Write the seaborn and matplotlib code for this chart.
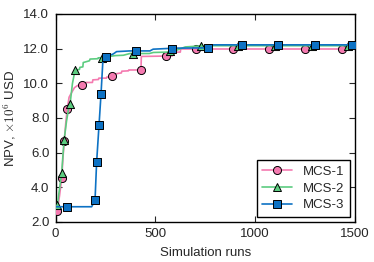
import matplotlib
matplotlib.use("Agg")
import matplotlib.pyplot as plt
from matplotlib.lines import Line2D
from matplotlib.ticker import FormatStrFormatter
import seaborn as sns

# best-so-far NPV curves (x = simulation run, y = NPV x1e6 USD)
mcs1_x = [0, 9, 20, 31, 38, 44, 52, 59, 68, 80, 95, 110, 150, 152, 185, 187, 215, 217, 255, 257,
          300, 302, 330, 332, 365, 367, 428, 430, 585, 587, 625, 627, 1500]
mcs1_y = [2.6, 2.65, 3.5, 4.51, 5.8, 6.67, 7.8, 8.53, 9.2, 9.45, 9.75, 9.87, 9.92, 10.05, 10.05, 10.2,
          10.22, 10.3, 10.3, 10.36, 10.4, 10.55, 10.6, 10.7, 10.72, 10.77, 10.77, 11.55, 11.58, 11.8,
          11.8, 11.98, 11.98]
mcs2_x = [0, 9, 20, 31, 37, 43, 55, 65, 73, 85, 98, 120, 122, 137, 139, 170, 173, 212, 214, 250, 256,
          300, 340, 373, 470, 490, 560, 600, 650, 720, 730, 1500]
mcs2_y = [2.85, 2.98, 3.9, 4.83, 5.8, 6.71, 7.8, 8.5, 8.81, 10.0, 10.77, 10.8, 10.92, 10.95, 11.2, 11.3,
          11.4, 11.42, 11.47, 11.49, 11.53, 11.6, 11.62, 11.72, 11.72, 11.78, 11.8, 11.88, 12.1, 12.15,
          12.17, 12.17]
mcs3_x = [0, 181, 198, 206, 218, 228, 238, 253, 262, 265, 290, 306, 373, 473, 489, 600, 780, 785, 1500]
mcs3_y = [2.88, 2.88, 3.26, 5.46, 7.59, 9.39, 11.45, 11.49, 11.5, 11.58, 11.7, 11.83, 11.87, 11.87,
          11.97, 12.03, 12.05, 12.22, 12.22]

# marker positions along each curve
mcs1_mx = [9, 31, 44, 59, 134, 284, 426, 552, 703, 887, 1068, 1252, 1436]
mcs1_my = [2.65, 4.51, 6.67, 8.53, 9.92, 10.4, 10.77, 11.58, 11.98, 11.98, 11.98, 11.98, 11.98]
mcs2_mx = [9, 31, 43, 73, 98, 231, 390, 573, 728, 915, 1099, 1283, 1466]
mcs2_my = [2.98, 4.83, 6.71, 8.81, 10.77, 11.48, 11.72, 11.84, 12.17, 12.17, 12.17, 12.17, 12.17]
mcs3_mx = [56, 198, 206, 218, 228, 253, 402, 582, 765, 932, 1115, 1299, 1483]
mcs3_my = [2.88, 3.26, 5.46, 7.59, 9.39, 11.49, 11.87, 12.0, 12.04, 12.22, 12.22, 12.22, 12.22]

labels = ["MCS-1", "MCS-2", "MCS-3"]
colors = ["#f47ab0", "#5ccc80", "#0d72c4"]
markers = ["o", "^", "s"]

sns.set_style("ticks")
plt.rcParams["font.family"] = ["Liberation Sans", "DejaVu Sans"]
plt.rcParams["mathtext.fontset"] = "cm"
plt.rcParams["font.size"] = 9.5

fig = plt.figure(figsize=(3.74, 2.62), dpi=100)
ax = fig.add_axes([0.1484, 0.1527, 0.8008, 0.7939])

curves = [(mcs1_x, mcs1_y, mcs1_mx, mcs1_my),
          (mcs2_x, mcs2_y, mcs2_mx, mcs2_my),
          (mcs3_x, mcs3_y, mcs3_mx, mcs3_my)]

for i, (cx, cy, mx, my) in enumerate(curves):
    sns.lineplot(x=cx, y=cy, ax=ax, color=colors[i], lw=1.2, estimator=None, sort=False,
                 zorder=2 + 2 * i)
    sns.scatterplot(x=mx, y=my, ax=ax, marker=markers[i], s=34, color=colors[i],
                    edgecolor="black", linewidth=0.7, zorder=3 + 2 * i)

ax.set_xlim(0, 1500)
ax.set_ylim(2, 14)
ax.set_xticks([0, 500, 1000, 1500])
ax.set_yticks([2, 4, 6, 8, 10, 12, 14])
ax.yaxis.set_major_formatter(FormatStrFormatter("%.1f"))
ax.tick_params(direction="in", top=True, right=True, length=4, width=0.8, labelsize=9.5, pad=4.5)
for s in ax.spines.values():
    s.set_color("black")
    s.set_linewidth(1.0)

ax.set_xlabel("Simulation runs", fontsize=9.5, labelpad=5)
ax.set_ylabel(r"NPV, $\times 10^6$ USD", fontsize=9.5, labelpad=4)

handles = [Line2D([], [], color=colors[i], marker=markers[i], markerfacecolor=colors[i],
                  markeredgecolor="black", markeredgewidth=0.7, markersize=5.8, lw=1.2)
           for i in range(3)]
leg = ax.legend(handles, labels, loc="lower right", fancybox=False, framealpha=1,
                edgecolor="black", fontsize=9.5, handlelength=2.3, borderaxespad=0.4,
                labelspacing=0.35)
leg.get_frame().set_linewidth(1.0)

fig.savefig("out.png", dpi=100)
